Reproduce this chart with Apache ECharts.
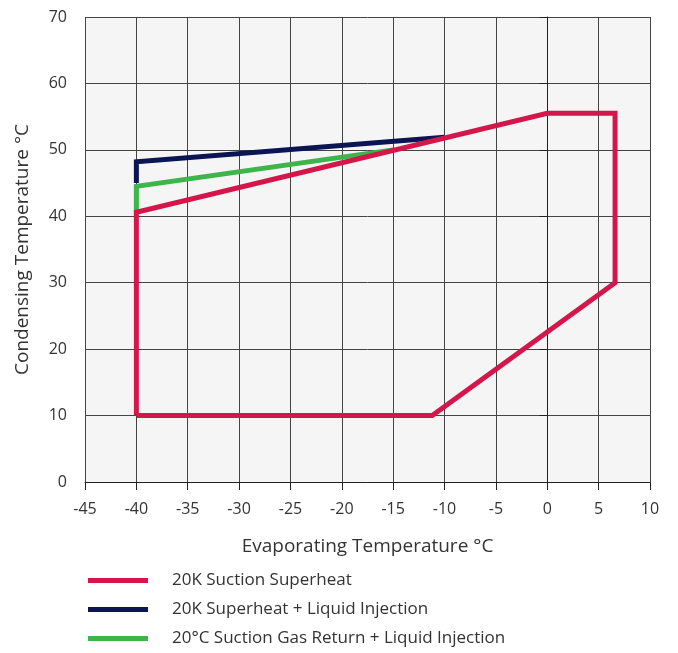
<!DOCTYPE html>
<html>
<head>
<meta charset="utf-8">
<script src="https://cdn.jsdelivr.net/npm/echarts@6/dist/echarts.min.js"></script>
<style>html,body{margin:0;padding:0;background:#fff;}#c{width:678px;height:653px;}</style>
</head>
<body>
<div id="c"></div>
<script>
var seriesNames = ['20K Suction Superheat', '20K Superheat + Liquid Injection', '20°C Suction Gas Return + Liquid Injection'];
var suctionSuperheat = [[-40, 10], [-40, 40.6], [0, 55.5], [6.6, 55.5], [6.6, 30], [-11.2, 10], [-40, 10]];
var superheatLiquidInj = [[-40, 45], [-40, 48.2], [-10, 51.9]];
var gasReturnLiquidInj = [[-40, 40.6], [-40, 44.5], [-15, 50]];
var xTicks = [-45, 10, 5];
var yTicks = [0, 70, 10];
var colors = ['#d4164b', '#0b1553', '#3db54a'];

var font = '"Open Sans", Lato, sans-serif';
var chart = echarts.init(document.getElementById('c'), null, {renderer: 'canvas'});
function mk(name, data, color, z) {
  return {
    name: name, type: 'line', data: data, showSymbol: false, symbol: 'none', z: z,
    lineStyle: {color: color, width: 5, join: 'miter', cap: 'butt'},
    itemStyle: {color: color}, animation: false
  };
}
chart.setOption({
  animation: false,
  backgroundColor: '#fff',
  grid: {left: 85, right: 28, top: 17, bottom: 171, show: true, backgroundColor: '#f5f5f5', borderWidth: 0},
  legend: {
    orient: 'vertical', left: 88, top: 572, width: 580, height: 90, padding: 0,
    icon: 'rect', itemWidth: 60, itemHeight: 5, itemGap: 12,
    textStyle: {fontFamily: font, fontSize: 17, color: '#333', padding: [0, 0, 0, 19]},
    data: seriesNames
  },
  xAxis: {
    type: 'value', min: xTicks[0], max: xTicks[1], interval: xTicks[2],
    name: 'Evaporating Temperature °C', nameLocation: 'middle', nameGap: 55,
    nameTextStyle: {fontFamily: font, fontSize: 19, color: '#333'},
    axisLine: {show: true, lineStyle: {color: '#222', width: 1}},
    axisTick: {show: true, length: 8, lineStyle: {color: '#222'}},
    axisLabel: {fontFamily: font, fontSize: 16, color: '#333', margin: 19},
    splitLine: {show: true, lineStyle: {color: '#444', width: 1}}
  },
  yAxis: {
    type: 'value', min: yTicks[0], max: yTicks[1], interval: yTicks[2],
    name: 'Condensing Temperature °C', nameLocation: 'middle', nameGap: 53,
    nameTextStyle: {fontFamily: font, fontSize: 19, color: '#333'},
    axisLine: {show: true, lineStyle: {color: '#222', width: 1}},
    axisTick: {show: true, length: 8, lineStyle: {color: '#222'}},
    axisLabel: {fontFamily: font, fontSize: 16, color: '#333', margin: 18},
    splitLine: {show: true, lineStyle: {color: '#444', width: 1}}
  },
  series: [
    mk(seriesNames[0], suctionSuperheat, colors[0], 5),
    mk(seriesNames[1], superheatLiquidInj, colors[1], 3),
    mk(seriesNames[2], gasReturnLiquidInj, colors[2], 4)
  ]
});
</script>
</body>
</html>
